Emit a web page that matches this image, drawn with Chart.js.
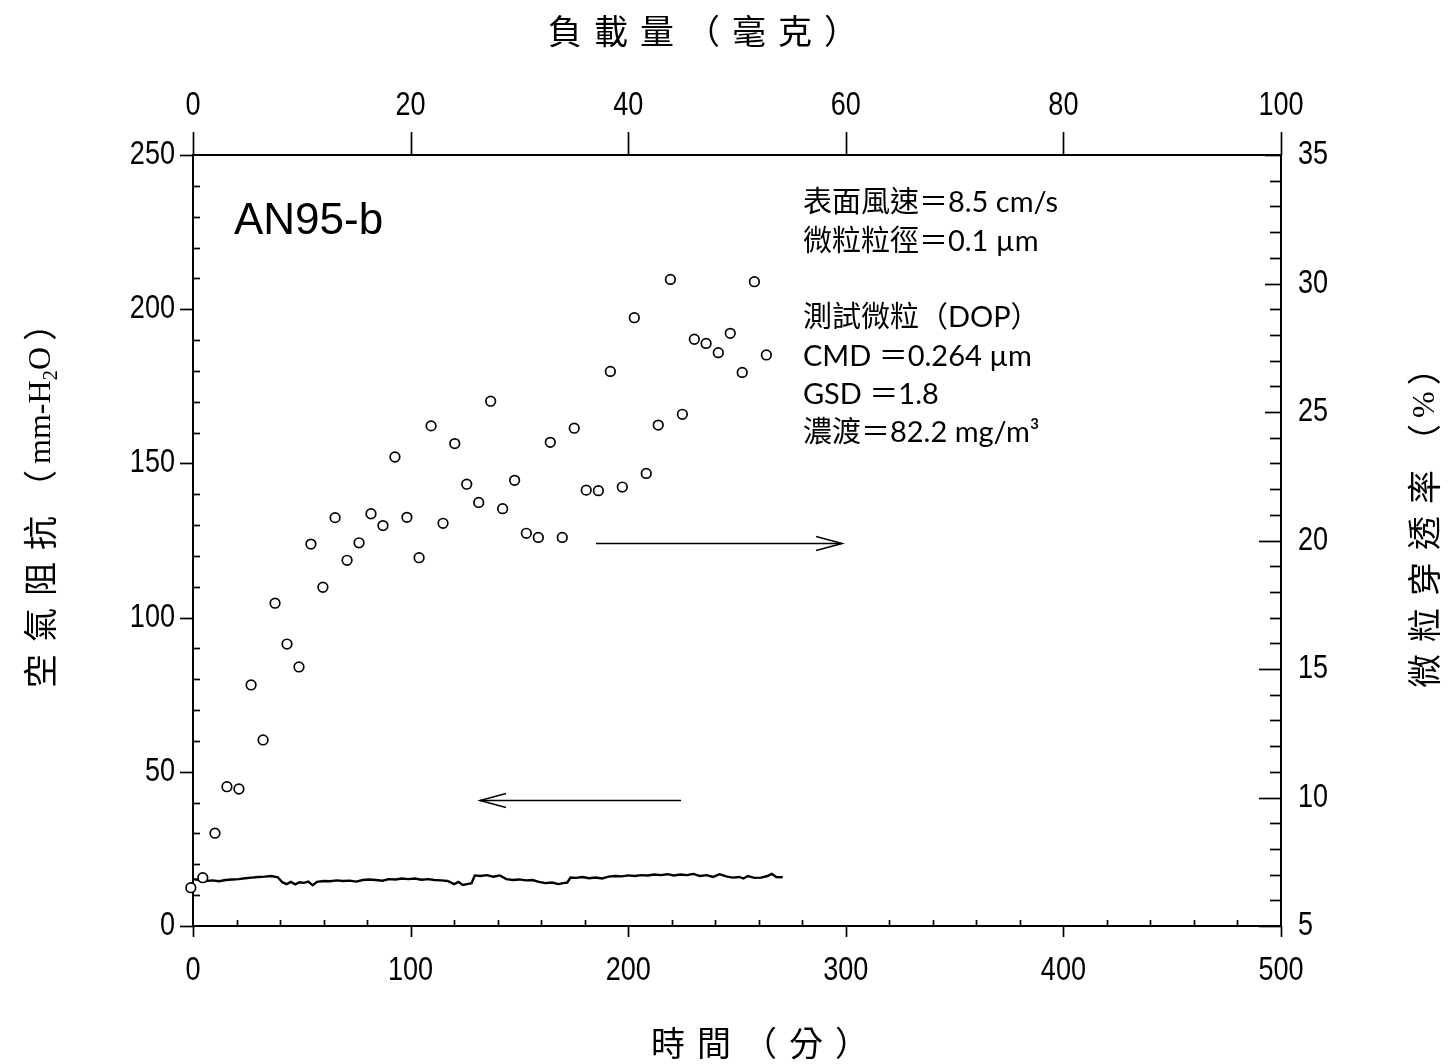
<!DOCTYPE html>
<html><head><meta charset="utf-8">
<script src="https://cdn.jsdelivr.net/npm/chart.js@4/dist/chart.umd.min.js"></script>
<style>html,body{margin:0;padding:0;background:#fff}#wrap{width:1452px;height:1064px}</style>
</head><body><div id="wrap"><canvas id="c" width="1452" height="1064"></canvas></div>
<script>
// ---- data ----
const penTimes = [-1, 4.5, 10.1, 15.6, 21.1, 26.7, 32.2, 37.7, 43.2, 48.7, 54.2, 59.7, 65.3, 70.8, 76.3, 81.8, 87.3, 92.8, 98.3, 103.9, 109.4, 114.9, 120.3, 125.8, 131.3, 136.8, 142.3, 147.8, 153.2, 158.7, 164.2, 169.7, 175.2, 180.7, 186.3, 191.8, 197.3, 202.8, 208.3, 213.8, 219.4, 224.9, 230.4, 235.8, 241.4, 246.9, 252.4, 258.0, 263.5];
const penValues = [6.49, 6.88, 8.61, 10.42, 10.33, 14.38, 12.24, 17.56, 15.97, 15.08, 19.86, 18.18, 20.89, 19.23, 19.91, 21.04, 20.58, 23.25, 20.9, 19.33, 24.46, 20.67, 23.77, 22.19, 21.48, 25.42, 21.24, 22.34, 20.28, 20.12, 23.82, 20.12, 24.37, 21.96, 21.94, 26.58, 22.08, 28.67, 22.61, 24.49, 30.16, 24.91, 27.83, 27.67, 27.31, 28.06, 26.54, 30.07, 27.22];
const dpTimes = [0, 3, 6, 9, 12, 15, 18, 21, 24, 27, 30, 33, 36, 39, 41, 43, 45, 47, 49, 51, 53, 55, 57, 60, 63, 66, 69, 72, 75, 78, 81, 84, 87, 90, 93, 96, 99, 102, 105, 108, 111, 114, 117, 120, 122, 124, 126, 128, 129.5, 132, 135, 138, 141, 144, 147, 150, 153, 156, 159, 162, 165, 168, 170, 172, 173.5, 176, 179, 182, 185, 188, 191, 194, 197, 200, 203, 206, 209, 212, 215, 218, 221, 224, 227, 230, 233, 236, 239, 242, 245, 248, 251, 253, 255, 258, 261, 264, 266, 268, 271];
const dpValues = [15.2, 14.9, 14.6, 14.8, 14.5, 14.9, 15.1, 15.2, 15.5, 15.7, 15.9, 16.0, 16.2, 15.8, 14.2, 13.6, 14.3, 13.5, 14.2, 14.0, 14.4, 13.2, 14.3, 14.6, 14.5, 14.8, 14.6, 14.7, 14.4, 14.9, 15.1, 14.9, 14.7, 15.2, 15.1, 15.4, 15.2, 15.4, 15.0, 15.2, 14.9, 14.8, 14.6, 13.6, 14.3, 13.3, 13.6, 13.9, 16.4, 16.2, 16.5, 16.0, 16.4, 15.2, 14.9, 15.1, 14.8, 14.9, 14.3, 13.9, 14.1, 13.6, 13.9, 14.1, 15.7, 15.6, 15.9, 15.5, 15.7, 15.4, 16.0, 16.2, 16.1, 16.4, 16.2, 16.5, 16.4, 16.7, 16.5, 16.8, 16.4, 16.7, 16.5, 16.9, 16.2, 16.5, 15.9, 16.8, 16.1, 15.7, 15.9, 15.4, 16.2, 15.6, 15.7, 16.2, 16.9, 15.9, 15.8];
const timeTicks = [0, 100, 200, 300, 400, 500];
const loadTicks = [0, 20, 40, 60, 80, 100];
const dpTicks = [0, 50, 100, 150, 200, 250];
const penTicks = [5, 10, 15, 20, 25, 30, 35];
const titleTop = '負載量（毫克）';
const titleBottom = '時間（分）';
const titleLeft = [['空氣阻抗（', 'cjk'], ['mm-H', 'lat'], ['2', 'sub'], ['O', 'lat'], ['）', 'cjk']];
const titleRight = [['微粒穿透率（', 'cjk'], ['%', 'lat'], ['）', 'cjk']];
const sampleLabel = 'AN95-b';
const noteLines = ['表面風速＝8.5 cm/s', '微粒粒徑＝0.1 µm', '', '測試微粒（DOP）', 'CMD ＝0.264 µm', 'GSD ＝1.8', '濃渡＝82.2 mg/m³'];
// arrows: [tail time, tip time, level]
const arrowPen = [185.2, 298.3, 19.9];
const arrowDp = [224.3, 131.9, 40.9];

// ---- layout / style ----
const CJK = "'Noto Sans CJK TC'";
const CJK_SIZE = 34, CJK_ADV = 46;

function axis(pos, min, max, vals, size) {
  return {
    type: 'linear', position: pos, min: min, max: max, display: true,
    grid: { display: false, drawTicks: false },
    border: { display: true, color: '#000', width: 2 },
    ticks: { display: false },
    afterBuildTicks: s => { s.ticks = vals.map(v => ({ value: v })); },
    afterFit: s => { if (pos === 'left' || pos === 'right') s.width = size; else s.height = size; }
  };
}

const tickPlugin = {
  id: 'ticks',
  afterDraw(chart) {
    const c = chart.ctx, s = chart.scales, a = chart.chartArea;
    c.save(); c.strokeStyle = '#000'; c.lineWidth = 1.7;
    const seg = (x0, y0, x1, y1) => { c.beginPath(); c.moveTo(x0, y0); c.lineTo(x1, y1); c.stroke(); };
    for (let v = 0; v <= 250; v += 10) {
      const y = Math.round(s.y.getPixelForValue(v)) + 0.5;
      if (v % 50 === 0) seg(a.left - 13, y, a.left, y); else seg(a.left, y, a.left + 7, y);
    }
    for (let v = 0; v <= 500; v += 20) {
      const x = Math.round(s.x.getPixelForValue(v)) + 0.5;
      if (v % 100 === 0) seg(x, a.bottom, x, a.bottom + 11); else seg(x, a.bottom, x, a.bottom - 6);
    }
    for (let v = 0; v <= 100; v += 20) {
      const x = Math.round(s.x2.getPixelForValue(v)) + 0.5;
      seg(x, a.top, x, a.top - 23);
    }
    for (let v = 5; v <= 35; v += 1) {
      const y = Math.round(s.yR.getPixelForValue(v)) + 0.5;
      let len = 11;
      if (v % 5 === 0) len = v >= 25 ? 16 : 22;
      seg(a.right - len, y, a.right, y);
    }
    // tick labels (narrow sans)
    c.fillStyle = '#000'; c.font = '33px "Liberation Sans"'; c.textBaseline = 'middle';
    const put = (t, x, y, align) => { c.save(); c.translate(x, y); c.scale(0.82, 1); c.textAlign = align; c.fillText(t, 0, 0); c.restore(); };
    timeTicks.forEach(v => put(String(v), s.x.getPixelForValue(v), a.bottom + 45, 'center'));
    loadTicks.forEach(v => put(String(v), s.x2.getPixelForValue(v), a.top - 49, 'center'));
    dpTicks.forEach(v => put(String(v), a.left - 18, s.y.getPixelForValue(v), 'right'));
    penTicks.forEach(v => put(String(v), a.right + 17, s.yR.getPixelForValue(v), 'left'));
    c.restore();
  }
};

function drawArrow(c, x0, x1, y) {
  c.beginPath(); c.moveTo(x0, y); c.lineTo(x1, y); c.stroke();
  const d = x1 > x0 ? -1 : 1;
  c.beginPath(); c.moveTo(x1 + d * 26, y - 7); c.lineTo(x1, y); c.lineTo(x1 + d * 26, y + 7); c.stroke();
}

function cellText(c, text, x0, y, adv) {
  const chars = Array.from(text);
  chars.forEach((ch, i) => c.fillText(ch, x0 + adv * i + adv / 2, y));
  return x0 + adv * chars.length;
}

function runText(c, parts, x0, y) {
  let x = x0;
  for (const [t, kind] of parts) {
    if (kind === 'cjk') {
      c.font = CJK_SIZE + 'px ' + CJK; c.textAlign = 'center';
      x = cellText(c, t, x, y, CJK_ADV);
    } else if (kind === 'lat') {
      c.font = '32px "Liberation Serif"'; c.textAlign = 'left';
      c.fillText(t, x, y + 2); x += c.measureText(t).width;
    } else {
      c.font = '21px "Liberation Serif"'; c.textAlign = 'left';
      c.fillText(t, x, y + 11); x += c.measureText(t).width;
    }
  }
}

const textPlugin = {
  id: 'texts',
  afterDraw(chart) {
    const c = chart.ctx, s = chart.scales;
    c.save(); c.fillStyle = '#000'; c.strokeStyle = '#000'; c.lineWidth = 1.5;
    drawArrow(c, s.x.getPixelForValue(arrowPen[0]), s.x.getPixelForValue(arrowPen[1]), Math.round(s.yR.getPixelForValue(arrowPen[2])) + 0.5);
    drawArrow(c, s.x.getPixelForValue(arrowDp[0]), s.x.getPixelForValue(arrowDp[1]), Math.round(s.y.getPixelForValue(arrowDp[2])) + 0.5);
    c.textBaseline = 'middle';
    c.font = CJK_SIZE + 'px ' + CJK; c.textAlign = 'center';
    const tn = Array.from(titleTop).length;
    cellText(c, titleTop, 703 - tn * CJK_ADV / 2, 31, CJK_ADV);
    const bn = Array.from(titleBottom).length;
    cellText(c, titleBottom, 760 - bn * CJK_ADV / 2, 1043, CJK_ADV);
    c.save(); c.translate(40, 694); c.rotate(-Math.PI / 2); runText(c, titleLeft, 0, 0); c.restore();
    c.save(); c.translate(1424, 694); c.rotate(-Math.PI / 2); runText(c, titleRight, 0, 0); c.restore();
    c.font = '44px "Liberation Sans"'; c.textAlign = 'left';
    c.fillText(sampleLabel, s.x.getPixelForValue(18.8), s.y.getPixelForValue(228.3));
    c.font = '29px Lato, ' + CJK;
    const nx = s.x.getPixelForValue(280.3);
    noteLines.forEach((t, i) => { if (t) c.fillText(t, nx, s.y.getPixelForValue(234.4) + i * 38.3); });
    c.restore();
  }
};

const xy = (xs, ys) => xs.map((x, i) => ({ x: x, y: ys[i] }));

new Chart(document.getElementById('c'), {
  type: 'scatter',
  data: {
    datasets: [
      { label: 'pen', data: xy(penTimes, penValues), xAxisID: 'x', yAxisID: 'yR', showLine: false,
        pointRadius: 4.8, pointBorderWidth: 1.7, pointBackgroundColor: '#fff', pointBorderColor: '#000', order: 0, clip: false },
      { label: 'dp', data: xy(dpTimes, dpValues), xAxisID: 'x', yAxisID: 'y', showLine: true,
        pointRadius: 0, borderColor: '#000', borderWidth: 2.4, tension: 0, order: 1 }
    ]
  },
  options: {
    responsive: false, animation: false, devicePixelRatio: 1,
    layout: { padding: 0 },
    plugins: { legend: { display: false }, tooltip: { enabled: false } },
    scales: {
      x: axis('bottom', 0, 500, timeTicks, 138),
      x2: axis('top', 0, 100, loadTicks, 155),
      y: axis('left', 0, 250, dpTicks, 193),
      yR: axis('right', 5, 35, penTicks, 171)
    }
  },
  plugins: [tickPlugin, textPlugin]
});
</script></body></html>
